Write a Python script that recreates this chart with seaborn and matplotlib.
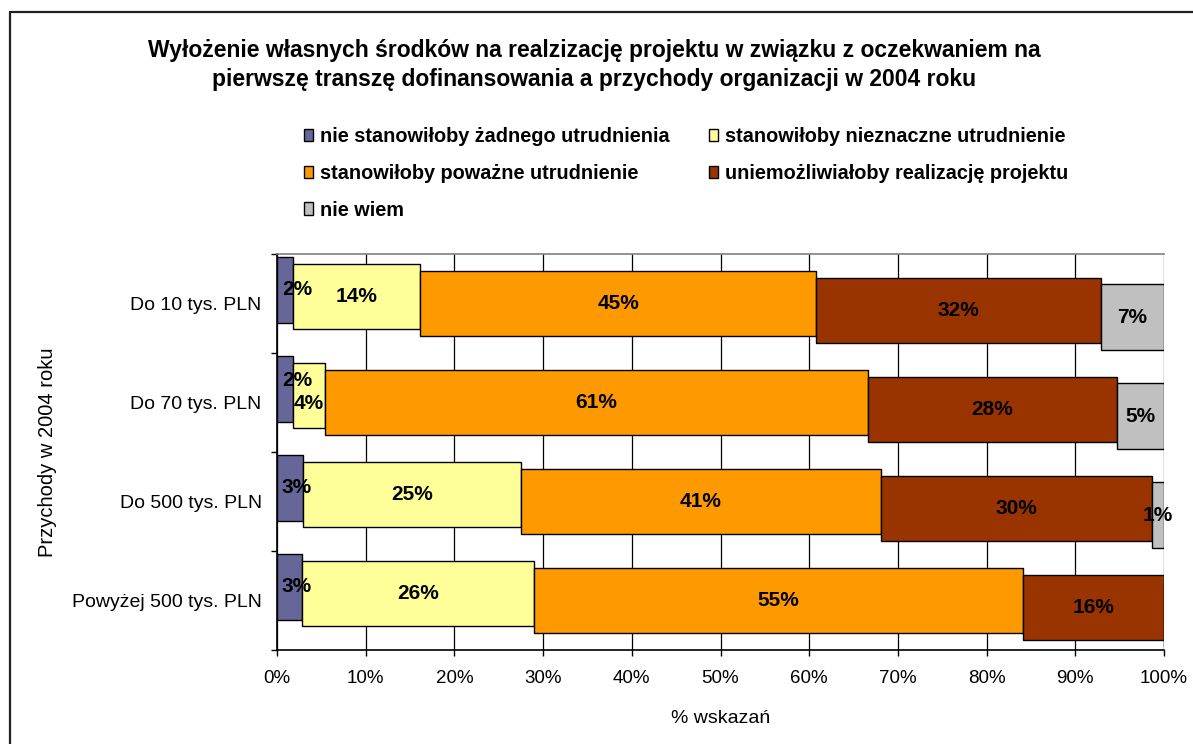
"""
Wyłożenie własnych środków a przychody organizacji w 2004 roku
- stacked horizontal bar chart (percent of answers per income group)
- saves out.png
"""

import matplotlib
matplotlib.use("Agg")
import matplotlib.pyplot as plt
from matplotlib.lines import Line2D
from matplotlib.patches import Patch
import numpy as np
import seaborn as sns

# -----------------------------
# Data
# -----------------------------
categories = ["Do 10 tys. PLN", "Do 70 tys. PLN", "Do 500 tys. PLN", "Powyżej 500 tys. PLN"]

series_names = [
    "nie stanowiłoby żadnego utrudnienia",
    "stanowiłoby nieznaczne utrudnienie",
    "stanowiłoby poważne utrudnienie",
    "uniemożliwiałoby realizację projektu",
    "nie wiem",
]

nie_utrudnienia = [1.8, 1.8, 2.9, 2.8]
nieznaczne = [14.3, 3.6, 24.6, 26.2]
powazne = [44.7, 61.2, 40.6, 55.1]
uniemozliwialoby = [32.1, 28.1, 30.5, 15.9]
nie_wiem = [7.1, 5.3, 1.4, 0.0]

series_values = [nie_utrudnienia, nieznaczne, powazne, uniemozliwialoby, nie_wiem]
colors = ["#666699", "#FFFF99", "#FF9900", "#993300", "#C0C0C0"]

x_ticks = list(range(0, 101, 10))
x_tick_labels = [f"{t}%" for t in x_ticks]

title = ("Wyłożenie własnych środków na realzizację projektu w związku z oczekwaniem na\n"
         "pierwszę transzę dofinansowania a przychody organizacji w 2004 roku")

# -----------------------------
# Style
# -----------------------------
sns.set_style("white")
plt.rcParams["font.family"] = ["Liberation Sans", "DejaVu Sans"]
plt.rcParams["text.color"] = "black"
plt.rcParams["axes.labelcolor"] = "black"
plt.rcParams["xtick.color"] = "black"
plt.rcParams["ytick.color"] = "black"

W, H = 1193, 744
fig = plt.figure(figsize=(W / 100, H / 100), dpi=100)
ax = fig.add_axes([277 / W, 1 - 650 / H, (1164 - 277) / W, (650 - 254) / H])

# -----------------------------
# Stacked bars (each series slightly shifted down, like the Excel original)
# -----------------------------
bar_h = 0.66
step = 0.069
left = np.zeros(len(categories))
label_texts = []
for i, (name, vals, col) in enumerate(zip(series_names, series_values, colors)):
    sns.barplot(x=vals, y=categories, orient="h", color=col, saturation=1,
                width=bar_h, edgecolor="black", linewidth=1.0, errorbar=None,
                left=left, ax=ax, zorder=3)
    cont = ax.containers[-1]
    off = (i - 2) * step
    for p in cont.patches:
        p.set_y(p.get_y() + off)
    labels = [f"{v:.0f}%" if v > 0 else "" for v in vals]
    texts = ax.bar_label(cont, labels=labels, label_type="center",
                         fontsize=15, fontweight="bold", color="black", zorder=4)
    label_texts.append(texts)
    left = left + np.array(vals)

# -----------------------------
# Axes
# -----------------------------
ax.set_xlim(0, 100)
ax.set_ylim(len(categories) - 0.5, -0.5)
ax.set_xticks(x_ticks)
ax.set_xticklabels(x_tick_labels, fontsize=13.5)
ax.set_yticks(range(len(categories)))
ax.set_yticklabels(categories, fontsize=14)
ax.set_yticks(np.arange(-0.5, len(categories), 1.0), minor=True)
ax.tick_params(axis="y", which="major", length=0, pad=11)
ax.tick_params(axis="y", which="minor", length=4, width=1, color="black", left=True)
ax.tick_params(axis="x", which="major", length=4, width=1, color="black", pad=10.5, bottom=True)

ax.grid(axis="x", color="black", linewidth=0.9)
ax.grid(axis="y", visible=False)
ax.set_axisbelow(True)

for side in ["left", "bottom"]:
    ax.spines[side].set_color("black")
    ax.spines[side].set_linewidth(1.2)
ax.spines["right"].set_visible(False)
ax.spines["top"].set_color("#808080")
ax.spines["top"].set_linewidth(1.2)

ax.set_xlabel("% wskazań", fontsize=14)
ax.set_ylabel("Przychody w 2004 roku", fontsize=14.5)
ax.xaxis.set_label_coords(0.5, -(710 - 650) / 396)
ax.yaxis.set_label_coords((57 - 277) / 887, 0.5)

# -----------------------------
# Tidy the small value labels (keep them off the axis and off each other)
# -----------------------------
fig.canvas.draw()
renderer = fig.canvas.get_renderer()
px2pt = 72 / fig.dpi
axis_x0 = ax.transAxes.transform((0, 0))[0]
for j in range(len(categories)):
    row = [label_texts[i][j] for i in range(len(series_names)) if label_texts[i][j].get_text()]
    for t in row:
        bb = t.get_window_extent(renderer)
        if bb.x0 < axis_x0 + 5:
            dx = (axis_x0 + 5 - bb.x0) * px2pt
            t.xyann = (t.xyann[0] + dx, t.xyann[1])
    for a, b in zip(row[:-1], row[1:]):
        ba = a.get_window_extent(renderer)
        bb = b.get_window_extent(renderer)
        if ba.x1 > bb.x0 and ba.y0 < bb.y1 and bb.y0 < ba.y1:
            sep = (ba.y0 + ba.y1) / 2 - (bb.y0 + bb.y1) / 2
            need = (ba.height + bb.height) / 2 + 4
            push = (need - sep) / 2 * px2pt
            a.xyann = (a.xyann[0], a.xyann[1] + push)
            b.xyann = (b.xyann[0], b.xyann[1] - push)

# -----------------------------
# Title and legend
# -----------------------------
fig.text(594 / W, 1 - 65 / H, title, ha="center", va="center",
         fontsize=16.5, fontweight="bold", linespacing=1.3)

handles = [Patch(facecolor=c, edgecolor="black", linewidth=1.0) for c in colors]
order = [0, 2, 4, 1, 3]
fig.legend([handles[k] for k in order], [series_names[k] for k in order],
           loc="upper left", bbox_to_anchor=(304 / W, 1 - 127 / H), ncol=2,
           frameon=False, borderpad=0, borderaxespad=0,
           prop={"weight": "bold", "size": 14.3},
           handlelength=0.45, handleheight=0.6, handletextpad=0.35,
           columnspacing=2.0, labelspacing=0.9)

# figure frame (only left and top edge visible in the crop)
fig.add_artist(Line2D([10 / W, 10 / W], [0, 1 - 12 / H], transform=fig.transFigure,
                      color="#222222", linewidth=1.6))
fig.add_artist(Line2D([10 / W, 1], [1 - 12 / H, 1 - 12 / H], transform=fig.transFigure,
                      color="#222222", linewidth=1.6))

fig.savefig("out.png", dpi=100)
plt.close(fig)
